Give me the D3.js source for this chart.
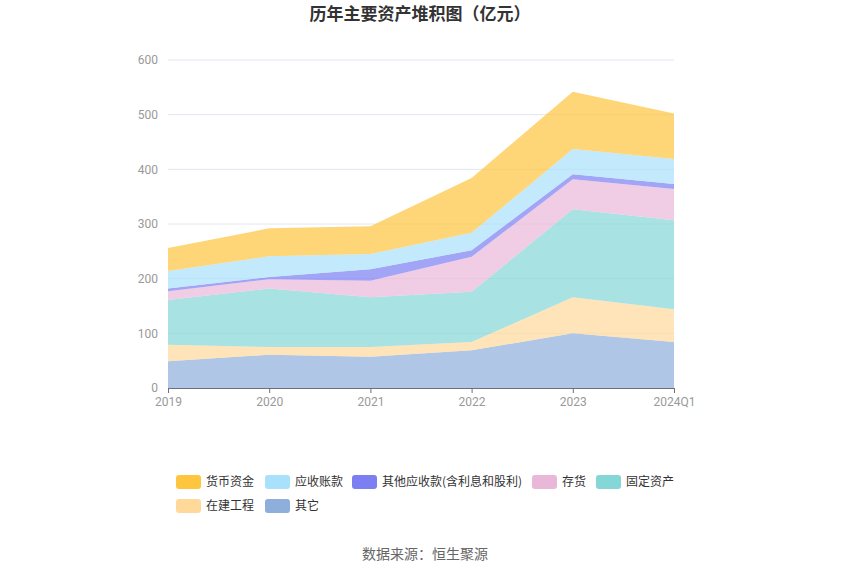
<!DOCTYPE html>
<html>
<head>
<meta charset="utf-8">
<script src="https://cdn.jsdelivr.net/npm/d3@7"></script>
<style>
  body { margin: 0; background: #fff; font-family: "Noto Sans CJK SC", "Noto Sans", sans-serif; }
</style>
</head>
<body>
<svg id="chart" width="850" height="575"></svg>
<script>
var years = ["2019", "2020", "2021", "2022", "2023", "2024Q1"];
var yTicks = [0, 100, 200, 300, 400, 500, 600];

// stacked from bottom to top
var qita = [49, 61, 57, 69, 100, 84];         // 其它
var zaijian = [30, 14, 18, 15, 66, 60];       // 在建工程
var guding = [82, 107, 91, 92, 161, 163];     // 固定资产
var cunhuo = [16, 17, 30, 64, 55, 57];        // 存货
var qitaYingshou = [5, 4, 21, 12, 9, 9];      // 其他应收款(含利息和股利)
var yingshou = [32, 38, 28, 32, 46, 46];      // 应收账款
var huobi = [42, 51, 51, 100, 105, 83];       // 货币资金

var seriesNames = ["其它", "在建工程", "固定资产", "存货", "其他应收款(含利息和股利)", "应收账款", "货币资金"];
var seriesValues = [qita, zaijian, guding, cunhuo, qitaYingshou, yingshou, huobi];
var seriesColors = ["#8eaedc", "#fed99a", "#85d6d6", "#e9b8d9", "#7b7ff2", "#a9e0fb", "#fec53e"];

var legendOrder = ["货币资金", "应收账款", "其他应收款(含利息和股利)", "存货", "固定资产", "在建工程", "其它"];

var margin = {left: 168, top: 60, right: 176, bottom: 187};
var w = 850 - margin.left - margin.right;
var h = 575 - margin.top - margin.bottom;

var svg = d3.select("#chart");

svg.append("text")
  .attr("x", 420).attr("y", 20)
  .attr("text-anchor", "middle")
  .style("font-size", "17px").style("font-weight", "bold").style("fill", "#333")
  .text("历年主要资产堆积图（亿元）");

var g = svg.append("g").attr("transform", "translate(" + margin.left + "," + margin.top + ")");

var x = d3.scalePoint().domain(years).range([0, w]);
var y = d3.scaleLinear().domain([0, 600]).range([h, 0]);

// table for the stack
var table = years.map(function(yr, i) {
  var row = {year: yr};
  seriesNames.forEach(function(n, k) { row[n] = seriesValues[k][i]; });
  return row;
});
var stack = d3.stack().keys(seriesNames)(table);

// grid
g.append("g")
  .selectAll("line")
  .data(yTicks.slice(1))
  .enter().append("line")
  .attr("x1", 0).attr("x2", w)
  .attr("y1", function(d) { return y(d); })
  .attr("y2", function(d) { return y(d); })
  .attr("stroke", "#e0e6f1").attr("stroke-width", 1);

var area = d3.area()
  .x(function(d) { return x(d.data.year); })
  .y0(function(d) { return y(d[0]); })
  .y1(function(d) { return y(d[1]); });

g.selectAll("path.layer")
  .data(stack)
  .enter().append("path")
  .attr("class", "layer")
  .attr("d", area)
  .attr("fill", function(d, i) { return seriesColors[i]; })
  .attr("fill-opacity", 0.7);

// y axis labels
var yaxis = d3.axisLeft(y).tickValues(yTicks).tickSize(0).tickPadding(10);
var ya = g.append("g").call(yaxis);
ya.select(".domain").remove();
ya.selectAll("text").style("fill", "#999").style("font-size", "12px").style("font-family", "Roboto, sans-serif");

// x axis
var xaxis = d3.axisBottom(x).tickSize(5).tickPadding(4);
var xa = g.append("g").attr("transform", "translate(0," + h + ")").call(xaxis);
xa.select(".domain").attr("stroke", "#6e7079");
xa.selectAll(".tick line").attr("stroke", "#6e7079");
xa.selectAll("text").style("fill", "#999").style("font-size", "12px").style("font-family", "Roboto, sans-serif");

// legend
var legendPos = [[176, 482], [265, 482], [352, 482], [532, 482], [596, 482], [176, 506], [265, 506]];
var lg = svg.append("g");
legendOrder.forEach(function(name, i) {
  var k = seriesNames.indexOf(name);
  var item = lg.append("g").attr("transform", "translate(" + legendPos[i][0] + "," + legendPos[i][1] + ")");
  item.append("rect")
    .attr("x", 0).attr("y", -7).attr("width", 25).attr("height", 14).attr("rx", 3)
    .attr("fill", seriesColors[k]);
  item.append("text")
    .attr("x", 30).attr("y", 0).attr("dy", "0.35em")
    .style("font-size", "12px").style("fill", "#333")
    .text(name);
});

svg.append("text")
  .attr("x", 425).attr("y", 559)
  .attr("text-anchor", "middle")
  .style("font-size", "14px").style("fill", "#666")
  .text("数据来源：恒生聚源");
</script>
</body>
</html>
